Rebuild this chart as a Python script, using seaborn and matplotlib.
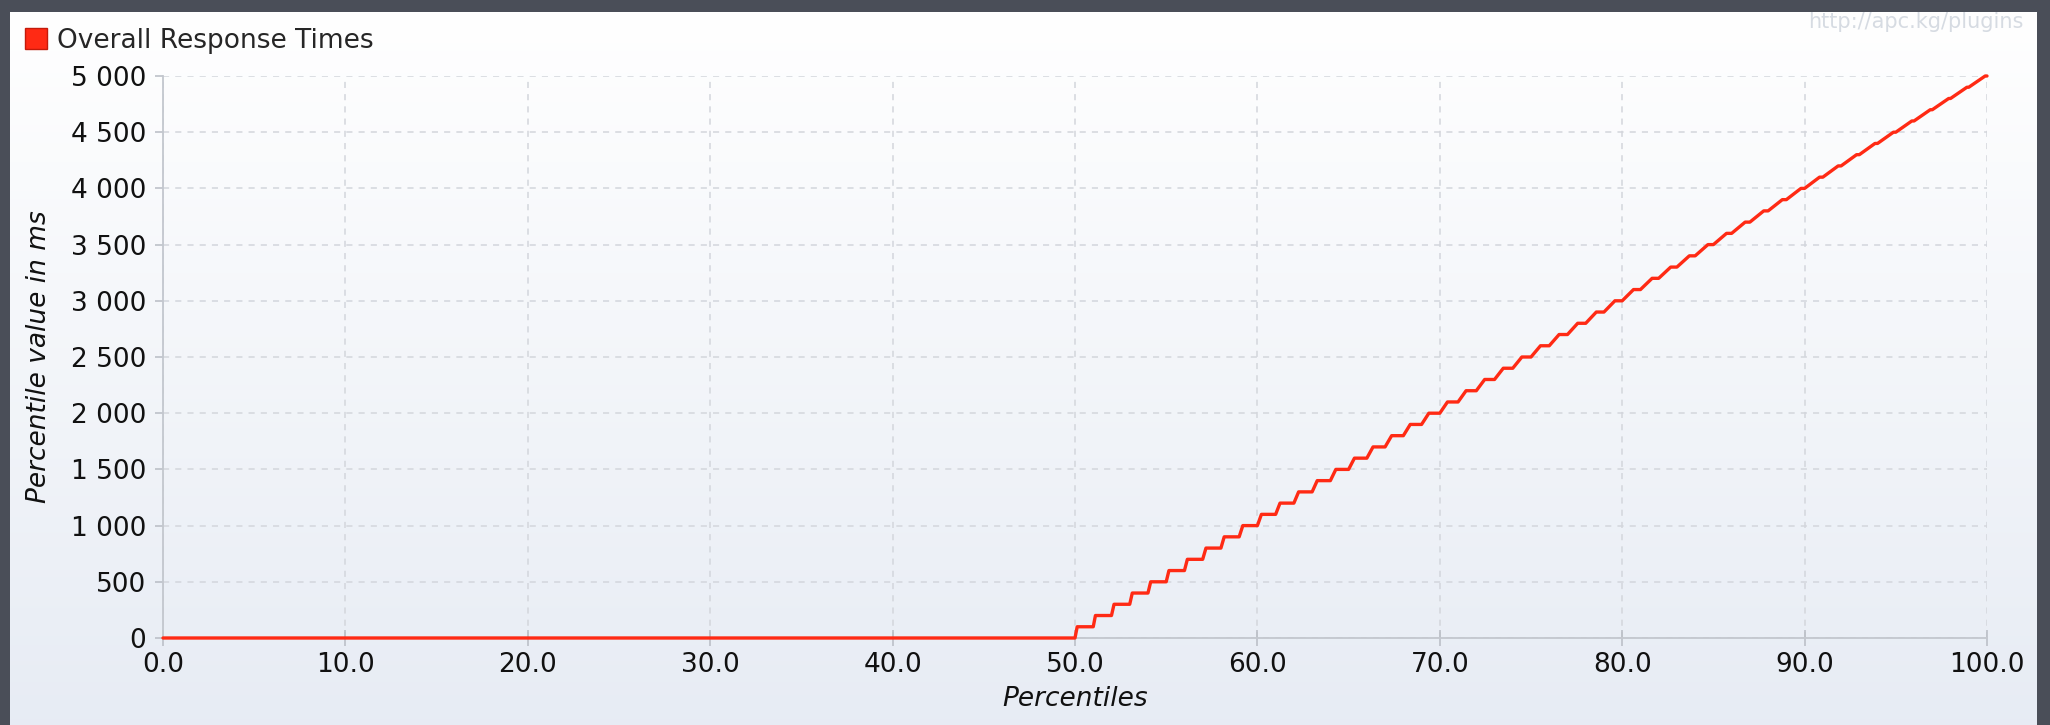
import numpy as np
import pandas as pd
import matplotlib
matplotlib.use("Agg")
import matplotlib.pyplot as plt
from matplotlib.patches import Patch
from matplotlib.ticker import FixedLocator, FuncFormatter
import seaborn as sns

# ---- data: response-time percentiles (ms) ----
# below the 50th percentile every response is 0 ms
ZERO_UNTIL_PCT = 50.0
# percentile at which each 100 ms step begins to rise
RISE_AT = [50, 51, 52, 53, 54, 55, 56, 57, 58, 59,
           60, 61, 62, 63, 64, 65, 66, 67, 68, 69,
           70, 71, 72, 73, 74, 75, 76, 77, 78, 79,
           80, 81, 82, 83, 84, 85, 86, 87, 88, 89,
           90, 91, 92, 93, 94, 95, 96, 97, 98, 99]
# percentile span of each rise
RISE_LEN = [0.12, 0.12, 0.14, 0.14, 0.15, 0.15, 0.16, 0.18, 0.18, 0.20,
            0.22, 0.24, 0.26, 0.28, 0.30, 0.32, 0.34, 0.36, 0.38, 0.40,
            0.42, 0.44, 0.46, 0.48, 0.50, 0.52, 0.54, 0.56, 0.58, 0.60,
            0.62, 0.64, 0.66, 0.68, 0.70, 0.72, 0.74, 0.76, 0.78, 0.80,
            0.82, 0.84, 0.85, 0.86, 0.87, 0.88, 0.89, 0.90, 0.90, 0.90]
# value reached after each rise
LEVEL_MS = [100, 200, 300, 400, 500, 600, 700, 800, 900, 1000,
            1100, 1200, 1300, 1400, 1500, 1600, 1700, 1800, 1900, 2000,
            2100, 2200, 2300, 2400, 2500, 2600, 2700, 2800, 2900, 3000,
            3100, 3200, 3300, 3400, 3500, 3600, 3700, 3800, 3900, 4000,
            4100, 4200, 4300, 4400, 4500, 4600, 4700, 4800, 4900, 5000]

X_TICKS = [0, 10, 20, 30, 40, 50, 60, 70, 80, 90, 100]
Y_TICKS = [0, 500, 1000, 1500, 2000, 2500, 3000, 3500, 4000, 4500, 5000]

SERIES = "Overall Response Times"
WATERMARK = "http://apc.kg/plugins"

# build the polyline corners of the stepped percentile curve
pct, ms = [0.0, ZERO_UNTIL_PCT], [0, 0]
for i, (p, r, v) in enumerate(zip(RISE_AT, RISE_LEN, LEVEL_MS)):
    pct.append(p + r)
    ms.append(v)
    nxt = RISE_AT[i + 1] if i + 1 < len(RISE_AT) else 100.0
    pct.append(nxt)
    ms.append(v)
df = pd.DataFrame({"Percentiles": pct, "ms": ms})

# ---- styling ----
sns.set_theme(style="white")
plt.rcParams["font.family"] = ["DejaVu Sans"]

W, H = 2050, 725
fig = plt.figure(figsize=(W / 100, H / 100), dpi=100, facecolor="#4a4e58")

# light panel with a soft vertical gradient
panel = fig.add_axes([10 / W, 0, 2027 / W, 713 / H], zorder=0)
top = np.array([1.0, 1.0, 1.0])
bottom = np.array([0.906, 0.925, 0.957])
t = np.linspace(0, 1, 256)[:, None]
grad = top[None, :] * (1 - t) + bottom[None, :] * t
panel.imshow(grad[:, None, :], aspect="auto", extent=[0, 1, 0, 1])
panel.set_axis_off()

ax = fig.add_axes([163 / W, 87 / H, 1824 / W, 562 / H], zorder=1)
ax.set_facecolor("none")

RED = "#ff2a14"
sns.lineplot(data=df, x="Percentiles", y="ms", ax=ax, color=RED,
             linewidth=2.4, estimator=None, sort=False, legend=False)
for ln in ax.lines:
    ln.set_clip_on(False)
    ln.set_zorder(4)

ax.set_xlim(0, 100)
ax.set_ylim(0, 5000)
ax.xaxis.set_major_locator(FixedLocator(X_TICKS))
ax.yaxis.set_major_locator(FixedLocator(Y_TICKS))
ax.xaxis.set_major_formatter(FuncFormatter(lambda v, _: f"{v:.1f}"))
ax.yaxis.set_major_formatter(
    FuncFormatter(lambda v, _: f"{int(v):,}".replace(",", " ")))

ax.grid(True, color="#d3d6dc", linewidth=1.1, linestyle=(0, (4, 4)))
for side in ("top", "right"):
    ax.spines[side].set_visible(False)
for side in ("left", "bottom"):
    ax.spines[side].set_color("#c3c7ce")
    ax.spines[side].set_linewidth(1.3)

ax.tick_params(axis="y", direction="out", length=6, width=1.1,
               color="#b8bcc4", labelsize=19, labelcolor="#111111", pad=6,
               left=True)
ax.tick_params(axis="x", direction="inout", length=12, width=1.1,
               color="#b8bcc4", labelsize=19, labelcolor="#111111", pad=4,
               bottom=True)

ax.set_xlabel("Percentiles", fontsize=19, fontstyle="italic",
              color="#111111", labelpad=6)
ax.set_ylabel("Percentile value in ms", fontsize=19, fontstyle="italic",
              color="#111111")
ax.yaxis.set_label_coords(-(163 - 52) / 1824, 0.5)

fig.legend(handles=[Patch(facecolor=RED, edgecolor="#c41a0a", linewidth=1)],
           labels=[SERIES], loc="upper left",
           bbox_to_anchor=(25 / W, 1 - 28 / H), frameon=False, fontsize=19,
           handlelength=0.85, handleheight=0.85, handletextpad=0.35,
           borderpad=0, borderaxespad=0)

fig.text(2023 / W, 1 - 22 / H, WATERMARK, ha="right", va="center",
         fontsize=15, color="#d6dbe2")

fig.savefig("out.png", dpi=100, facecolor=fig.get_facecolor())
